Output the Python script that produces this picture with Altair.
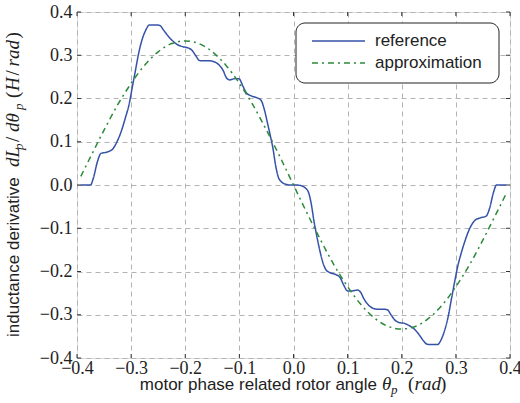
import altair as alt
import pandas as pd

# ---------------- data ----------------
series_names = ["reference", "approximation"]

ref_x = [-0.393, -0.375, -0.370, -0.362, -0.356, -0.345, -0.335, -0.325, -0.318, -0.310,
         -0.304, -0.298, -0.292, -0.286, -0.280, -0.273, -0.266, -0.255, -0.247, -0.240,
         -0.232, -0.224, -0.215, -0.205, -0.195, -0.188, -0.180, -0.174, -0.165, -0.155,
         -0.147, -0.138, -0.130, -0.124, -0.118, -0.108, -0.100, -0.094, -0.087, -0.078,
         -0.068, -0.060, -0.054, -0.048, -0.043, -0.038, -0.033, -0.028, -0.022, -0.015,
         -0.005, 0.005, 0.015, 0.022, 0.028, 0.033, 0.038, 0.043, 0.048, 0.054,
         0.060, 0.068, 0.078, 0.086, 0.093, 0.100, 0.108, 0.118, 0.124, 0.130,
         0.138, 0.147, 0.155, 0.165, 0.174, 0.180, 0.188, 0.195, 0.205, 0.215,
         0.224, 0.232, 0.240, 0.247, 0.255, 0.266, 0.273, 0.280, 0.286, 0.292,
         0.298, 0.304, 0.310, 0.318, 0.325, 0.335, 0.345, 0.356, 0.362, 0.370,
         0.375, 0.393]
ref_y = [0.000, 0.000, 0.015, 0.055, 0.073, 0.076, 0.082, 0.103, 0.125, 0.158,
         0.185, 0.225, 0.265, 0.305, 0.335, 0.358, 0.370, 0.370, 0.369, 0.358,
         0.345, 0.334, 0.325, 0.320, 0.317, 0.312, 0.298, 0.288, 0.287, 0.287,
         0.285, 0.278, 0.265, 0.248, 0.243, 0.246, 0.245, 0.230, 0.213, 0.206,
         0.202, 0.196, 0.175, 0.143, 0.115, 0.085, 0.045, 0.018, 0.007, 0.002,
         0.000, 0.000, -0.002, -0.007, -0.018, -0.045, -0.085, -0.118, -0.148, -0.178,
         -0.196, -0.203, -0.207, -0.214, -0.232, -0.245, -0.245, -0.243, -0.248, -0.263,
         -0.277, -0.285, -0.287, -0.287, -0.289, -0.300, -0.313, -0.318, -0.320, -0.326,
         -0.334, -0.346, -0.360, -0.368, -0.369, -0.369, -0.357, -0.333, -0.303, -0.262,
         -0.222, -0.185, -0.157, -0.125, -0.102, -0.082, -0.076, -0.072, -0.055, -0.015,
         0.000, 0.000]

app_x = [-0.393, -0.375, -0.350, -0.325, -0.300, -0.275, -0.250, -0.225, -0.200, -0.175,
         -0.150, -0.125, -0.100, -0.075, -0.050, -0.025, 0.000, 0.025, 0.050, 0.075,
         0.100, 0.125, 0.150, 0.175, 0.200, 0.225, 0.250, 0.275, 0.300, 0.325,
         0.350, 0.375, 0.393]
app_y = [0.020, 0.065, 0.127, 0.185, 0.235, 0.277, 0.308, 0.327, 0.333, 0.327,
         0.308, 0.277, 0.235, 0.185, 0.127, 0.065, 0.000, -0.065, -0.127, -0.185,
         -0.235, -0.277, -0.308, -0.327, -0.333, -0.327, -0.308, -0.277, -0.235, -0.185,
         -0.127, -0.065, -0.020]

tick_values = [-0.4, -0.3, -0.2, -0.1, 0.0, 0.1, 0.2, 0.3, 0.4]

# ---------------- styling ----------------
BLUE = "#3452a8"
GREEN = "#2b8a3a"
DASHDOT = [6, 4, 2, 4]
TXT = "#222222"
SANS = "Liberation Sans"
SERIF = "Liberation Serif"
W, H = 433, 346

df = pd.concat([
    pd.DataFrame({"x": ref_x, "y": ref_y, "series": series_names[0]}),
    pd.DataFrame({"x": app_x, "y": app_y, "series": series_names[1]}),
])
ticks_df = pd.DataFrame({"t": tick_values})

xscale = alt.Scale(domain=[-0.4, 0.4], nice=False, zero=False)
yscale = alt.Scale(domain=[-0.4, 0.4], nice=False, zero=False)

def make_axis(pad):
    return alt.Axis(values=tick_values, format=".1f", grid=True, gridColor="#b3b3b3",
                    gridDash=[5, 4], gridWidth=1, domain=False, ticks=False, tickSize=0,
                    labelFont=SERIF, labelFontSize=18, labelColor=TXT, labelPadding=pad,
                    labelFlush=False, labelOverlap=False, title=None)

lines = alt.Chart(df).mark_line(interpolate="monotone", strokeWidth=1.5).encode(
    x=alt.X("x:Q", scale=xscale, axis=make_axis(1)),
    y=alt.Y("y:Q", scale=yscale, axis=make_axis(5)),
    color=alt.Color("series:N", scale=alt.Scale(domain=series_names, range=[BLUE, GREEN]), legend=None),
    strokeDash=alt.StrokeDash("series:N", scale=alt.Scale(domain=series_names, range=[[1, 0], DASHDOT]), legend=None),
    order=alt.Order("x:Q"),
)

# small inward ticks on all four sides
TK = 4
tick_layers = [
    alt.Chart(ticks_df).mark_rule(color="#333333", strokeWidth=1).encode(
        x=alt.X("t:Q", scale=xscale), y=alt.value(H), y2=alt.value(H - TK)),
    alt.Chart(ticks_df).mark_rule(color="#333333", strokeWidth=1).encode(
        x=alt.X("t:Q", scale=xscale), y=alt.value(0), y2=alt.value(TK)),
    alt.Chart(ticks_df).mark_rule(color="#333333", strokeWidth=1).encode(
        y=alt.Y("t:Q", scale=yscale), x=alt.value(0), x2=alt.value(TK)),
    alt.Chart(ticks_df).mark_rule(color="#333333", strokeWidth=1).encode(
        y=alt.Y("t:Q", scale=yscale), x=alt.value(W), x2=alt.value(W - TK)),
]

one = pd.DataFrame({"k": [0]})

def txt(s, x, y, size, font, style="normal", angle=0, align="left", baseline="alphabetic"):
    return alt.Chart(one).mark_text(text=s, font=font, fontSize=size, fontStyle=style, angle=angle,
                                    align=align, baseline=baseline, color=TXT).encode(
        x=alt.value(x), y=alt.value(y))

# legend (manual)
legend_box = alt.Chart(one).mark_rect(fill="white", stroke="#222222", strokeWidth=1,
                                      cornerRadius=9).encode(
    x=alt.value(219), x2=alt.value(422), y=alt.value(11), y2=alt.value(71))
leg_ref = alt.Chart(one).mark_rule(color=BLUE, strokeWidth=1.5).encode(
    x=alt.value(235), x2=alt.value(288), y=alt.value(29))
leg_app = alt.Chart(one).mark_rule(color=GREEN, strokeWidth=1.5, strokeDash=DASHDOT).encode(
    x=alt.value(235), x2=alt.value(288), y=alt.value(51))
leg_t1 = txt(series_names[0], 298, 29, 17, SANS, baseline="middle")
leg_t2 = txt(series_names[1], 298, 51, 17, SANS, baseline="middle")

# x axis title: sans words + math part
xt_y = 378
x_title = [
    txt("motor phase related rotor angle", 300, xt_y, 17, SANS, align="right"),
    txt("θ", 305, xt_y, 19, SERIF, style="italic"),
    txt("p", 314, xt_y + 4, 13, SERIF, style="italic"),
    txt("(", 331, xt_y, 19, SERIF),
    txt("rad", 337.5, xt_y, 19, SERIF, style="italic"),
    txt(")", 363, xt_y, 19, SERIF),
]

# y axis title (rotated): fragments placed along the vertical
yt_x = -58
y_title = [
    txt("inductance derivative", yt_x, 325, 17, SANS, angle=270),
    txt("dL", yt_x, 155, 19, SERIF, style="italic", angle=270),
    txt("p", yt_x + 4, 138, 13, SERIF, style="italic", angle=270),
    txt("/", yt_x, 130, 19, SERIF, angle=270),
    txt("dθ", yt_x, 120, 19, SERIF, style="italic", angle=270),
    txt("p", yt_x + 4, 98, 13, SERIF, style="italic", angle=270),
    txt("(", yt_x, 86, 19, SERIF, angle=270),
    txt("H", yt_x, 79, 19, SERIF, style="italic", angle=270),
    txt("/", yt_x, 63.5, 19, SERIF, angle=270),
    txt("rad", yt_x, 54.5, 19, SERIF, style="italic", angle=270),
    txt(")", yt_x, 26.5, 19, SERIF, angle=270),
]

chart = alt.layer(
    lines, *tick_layers, legend_box, leg_ref, leg_app, leg_t1, leg_t2, *x_title, *y_title
).properties(
    width=W, height=H,
    autosize=alt.AutoSizeParams(type="none"),
    padding={"left": 77, "top": 12, "right": 10, "bottom": 45},
).configure_view(
    stroke="#333333", strokeWidth=1.2
).configure(background="white")

chart.save("out.html", embed_options={"renderer": "svg", "actions": False})
